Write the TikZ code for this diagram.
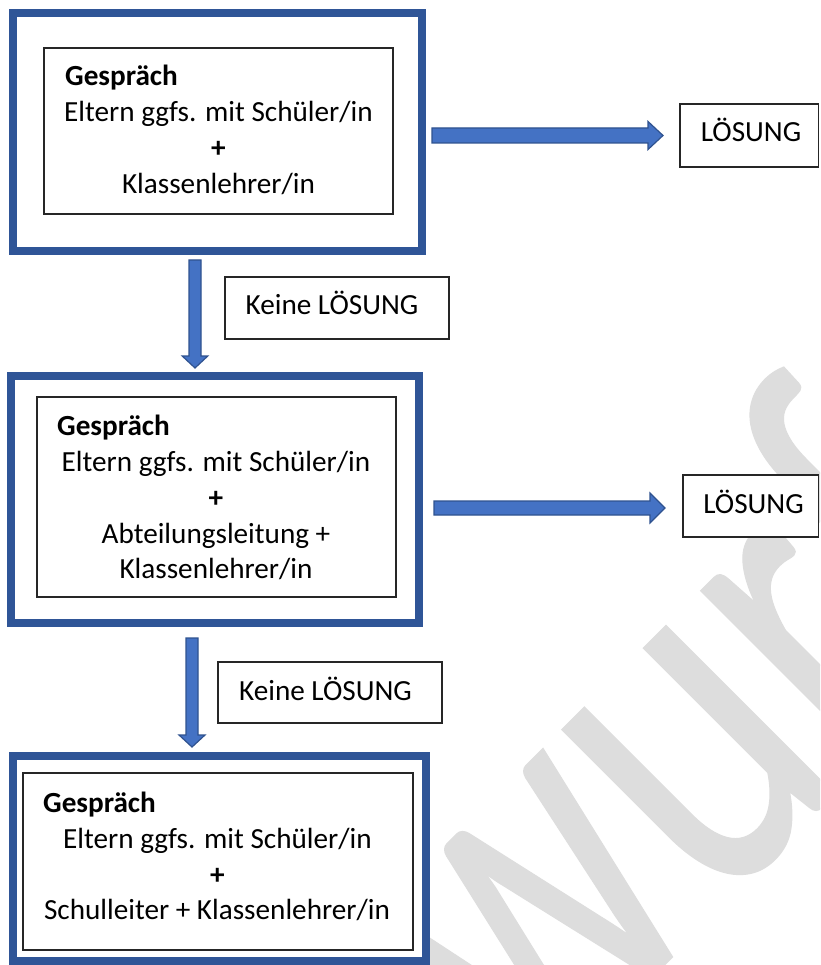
\documentclass[tikz,border=0pt]{standalone}
\usepackage{fontspec}
\setmainfont{Carlito}
\newfontfamily\wmfont[FakeBold=0.3]{Carlito}
\usetikzlibrary{calc}
\definecolor{framecol}{HTML}{2F5597}
\definecolor{arrowfill}{HTML}{4472C4}
\definecolor{arrowedge}{HTML}{2F528F}
\definecolor{wmark}{HTML}{DDDDDD}
\newcommand\hblock[5]{\filldraw[blockarrow] ($(#1)+(0,-#3)$) -- ($(#2)+(-#5,-#3)$) -- ($(#2)+(-#5,-#4)$) -- (#2) -- ($(#2)+(-#5,#4)$) -- ($(#2)+(-#5,#3)$) -- ($(#1)+(0,#3)$) -- cycle;}
\newcommand\vblock[5]{\filldraw[blockarrow] ($(#1)+(-#3,0)$) -- ($(#2)+(-#3,-#5)$) -- ($(#2)+(-#4,-#5)$) -- (#2) -- ($(#2)+(#4,-#5)$) -- ($(#2)+(#3,-#5)$) -- ($(#1)+(#3,0)$) -- cycle;}
\begin{document}
\begin{tikzpicture}[x=1pt,y=-1pt,
  frame/.style={draw=framecol, line width=8pt, fill=white, inner sep=0pt},
  inbox/.style={draw=black!85, line width=1.2pt, fill=white, inner sep=0pt},
  labelbox/.style={draw=black!85, line width=1.2pt, fill=white, inner sep=0pt},
  txt/.style={anchor=base, inner sep=0pt, font=\fontsize{29.2}{35.5}\selectfont},
  btxt/.style={anchor=base, inner sep=0pt, font=\fontsize{29.2}{35.5}\selectfont\bfseries},
  ttl/.style={anchor=base west, inner sep=0pt, font=\fontsize{29.2}{35.5}\selectfont\bfseries},
  blockarrow/.style={fill=arrowfill, draw=arrowedge, line width=1.2pt, line join=miter}]
\clip (0,0) rectangle (820,965);
\useasboundingbox (0,0) rectangle (820,965);
\fill[white] (0,0) rectangle (820,965);

% watermark
\node[anchor=base, inner sep=0pt, text=wmark, font=\wmfont\fontsize{372}{372}\selectfont, rotate=45, yscale=1.344] (wm) at (599.6,1029.6) {Entwurf};

% frames
\node[frame, minimum width=409pt, minimum height=238pt] (f1) at (217.5,132) {};
\node[frame, minimum width=408pt, minimum height=247pt] (f2) at (215,499.5) {};
\node[frame, minimum width=413pt, minimum height=205pt] (f3) at (219.5,858.5) {};

% inner boxes
\node[inbox, minimum width=349pt, minimum height=166pt] (b1) at (218.5,131) {};
\node[inbox, minimum width=359pt, minimum height=200pt] (b2) at (216.5,497) {};
\node[inbox, minimum width=390pt, minimum height=177pt] (b3) at (218,861.5) {};

% box 1 text
\node[ttl] (t1) at (65,86) {Gespräch};
\node[txt] (t1a) at (218.5,122) {Eltern ggfs. mit Schüler/in};
\node[btxt] (t1b) at (218.5,158) {+};
\node[txt] (t1c) at (218.5,193.5) {Klassenlehrer/in};

% box 2 text
\node[ttl] (t2) at (57,435) {Gespräch};
\node[txt] (t2a) at (216,471) {Eltern ggfs. mit Schüler/in};
\node[btxt] (t2b) at (216,507) {+};
\node[txt] (t2c) at (216,543) {Abteilungsleitung +};
\node[txt] (t2d) at (216,578.5) {Klassenlehrer/in};

% box 3 text
\node[ttl] (t3) at (43,812) {Gespräch};
\node[txt] (t3a) at (217.5,848) {Eltern ggfs. mit Schüler/in};
\node[btxt] (t3b) at (217.5,884) {+};
\node[txt] (t3c) at (217,919) {Schulleiter + Klassenlehrer/in};

% label boxes
\node[labelbox, minimum width=138.5pt, minimum height=63pt] (l1) at (749.25,135.5) {};
\node[txt] (l1t) at (751,142) {LÖSUNG};
\node[labelbox, minimum width=135.5pt, minimum height=62pt] (l2) at (750.75,506) {};
\node[txt] (l2t) at (753.5,513) {LÖSUNG};
\node[labelbox, minimum width=224pt, minimum height=62pt] (k1) at (337,308) {};
\node[txt] (k1t) at (332,314) {Keine LÖSUNG};
\node[labelbox, minimum width=224pt, minimum height=61pt] (k2) at (330,692.5) {};
\node[txt] (k2t) at (325.5,700) {Keine LÖSUNG};

% arrows
\coordinate (h1s) at (432,135.5);
\coordinate (h1e) at (663,135.5);
\coordinate (h2s) at (434,508);
\coordinate (h2e) at (665,508);
\coordinate (v1s) at (195,260);
\coordinate (v1e) at (195,368);
\coordinate (v2s) at (192,638);
\coordinate (v2e) at (192,747);
\hblock{h1s}{h1e}{7.5}{14}{15}
\hblock{h2s}{h2e}{7}{15}{15}
\vblock{v1s}{v1e}{6}{12.8}{12}
\vblock{v2s}{v2e}{6}{13}{12}
\end{tikzpicture}
\end{document}
